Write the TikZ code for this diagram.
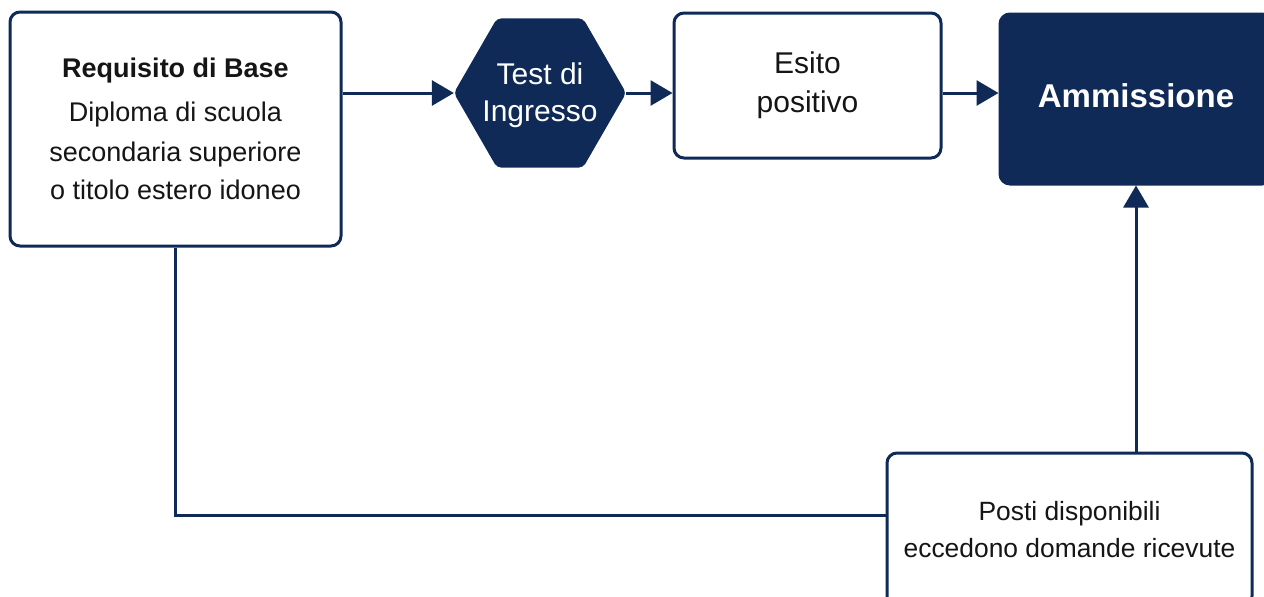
\documentclass[tikz,border=0pt]{standalone}
\usepackage{fontspec}
\setmainfont{Liberation Sans}
\usetikzlibrary{arrows.meta,shapes.geometric,calc}
\definecolor{navy}{HTML}{0F2A57}
\definecolor{ink}{HTML}{151515}
\tikzset{
  box/.style={draw=navy, line width=1.5pt, rounded corners=5pt, fill=white, inner sep=0pt, align=center, text=ink},
  darkbox/.style={draw=navy, fill=navy, line width=1.5pt, rounded corners=5pt, inner sep=0pt, align=center, text=white},
  hexa/.style={regular polygon, regular polygon sides=6, draw=navy, fill=navy, line width=1pt, rounded corners=2pt, inner sep=0pt, minimum size=85pt},
  hexlabel/.style={inner sep=0pt, align=center, text=white, font=\fontsize{15}{18.5}\selectfont},
  link/.style={draw=navy, line width=1.5pt},
  arr/.style={link, -{Triangle[length=11pt,width=12.5pt]}},
}
\begin{document}
\begin{tikzpicture}[x=0.5pt,y=-0.5pt]
\useasboundingbox (0,0) rectangle (1264,596);
\fill[white] (0,0) rectangle (1264,596);

\node[box, minimum width=165.5pt, minimum height=117pt, font=\fontsize{13.5}{20}\selectfont] (req) at (175.5,129)
  {\textbf{Requisito di Base}\\[2pt]
   Diploma di scuola\\
   secondaria superiore\\[-1pt]
   o titolo estero idoneo};

\node[hexa] (hex) at (540,93) {};
\node[hexlabel] (hextext) at ($(hex.center)+(0,2)$) {Test di\\Ingresso};

\node[box, minimum width=133.5pt, minimum height=72.5pt, font=\fontsize{15}{19.5}\selectfont] (esito) at (807.5,85.5)
  {Esito\\positivo};

\node[darkbox, minimum width=136pt, minimum height=85pt, font=\fontsize{16.5}{20}\selectfont\bfseries] (amm) at (1136,99)
  {\raisebox{3pt}{Ammissione}};

\node[box, minimum width=182.5pt, minimum height=76.5pt, font=\fontsize{13.2}{18.5}\selectfont] (posti) at (1069.5,529.5)
  {Posti disponibili\\eccedono domande ricevute};

\draw[arr] (req.east |- hex.west) -- (hex.west);
\draw[arr] (hex.east) -- (hex.east -| esito.west);
\draw[arr] (esito.east |- hex.east) -- (amm.west |- hex.east);
\draw[arr] (amm.south |- posti.north) -- (amm.south);
\coordinate (joint) at ($(posti.west)+(0,-14.5)$);
\draw[link] (req.south) |- (joint);
\end{tikzpicture}
\end{document}
